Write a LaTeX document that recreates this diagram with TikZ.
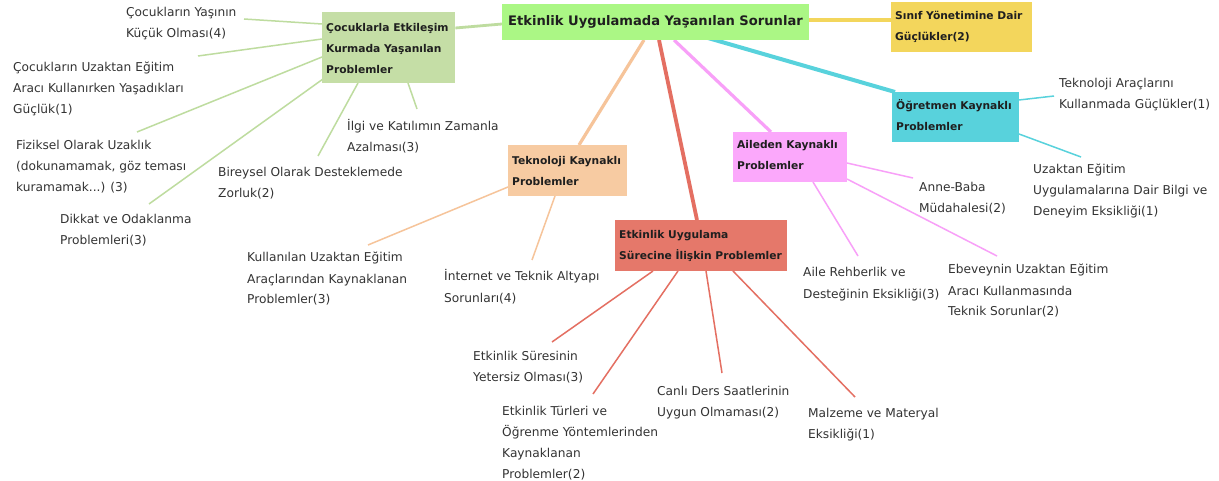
\documentclass[tikz,border=0pt]{standalone}
\usepackage{fontspec}
\setmainfont{DejaVu Sans}
\newcommand{\mlines}[1]{\begin{tabular}[t]{@{}l@{}}#1\end{tabular}}
\definecolor{rootg}{HTML}{ABF785}
\definecolor{sage}{HTML}{C5DEA6}
\definecolor{sageline}{HTML}{BEDC9F}
\definecolor{yel}{HTML}{F3D65C}
\definecolor{cyanb}{HTML}{58D2DC}
\definecolor{pinkb}{HTML}{FBA8FB}
\definecolor{pinkl}{HTML}{F8A0F8}
\definecolor{peach}{HTML}{F7CBA2}
\definecolor{peachl}{HTML}{F6C49A}
\definecolor{redb}{HTML}{E5786A}
\definecolor{redl}{HTML}{E46F62}
\pgfdeclarelayer{bg}\pgfdeclarelayer{paper}\pgfsetlayers{paper,bg,main}
\begin{document}
\begin{tikzpicture}[x=1pt,y=-1pt,
  leaf/.style={anchor=base west, inner sep=0pt, font=\fontsize{12.2}{21}\selectfont, text=black!80},
  btext/.style={anchor=base west, inner sep=0pt, font=\bfseries\fontsize{10.7}{21}\selectfont, text=black!88},
  box/.style={anchor=north west, inner sep=0pt, draw=none},
  thin/.style={line width=1.5pt},
  thick/.style={line width=3.2pt}]
\begin{pgfonlayer}{paper}
\fill[white] (0,0) rectangle (1219,481);
\end{pgfonlayer}
\useasboundingbox (0,0) rectangle (1219,481);

% boxes
\node[box, fill=rootg, minimum width=307, minimum height=36] (root) at (502,4) {};
\node[anchor=base, inner sep=0pt, font=\bfseries\fontsize{13.1}{21}\selectfont, text=black!88] (roott) at (655.5,26) {Etkinlik Uygulamada Yaşanılan Sorunlar};
\node[box, fill=sage, minimum width=133, minimum height=71] (cocuk) at (322,12) {};
\node[btext] (cocukt) at (326,32) {\mlines{Çocuklarla Etkileşim\\Kurmada Yaşanılan\\Problemler}};
\node[box, fill=yel, minimum width=141, minimum height=50] (sinif) at (891,2) {};
\node[btext] (sinift) at (895,20) {\mlines{Sınıf Yönetimine Dair\\Güçlükler(2)}};
\node[box, fill=cyanb, minimum width=127, minimum height=50] (ogret) at (892,92) {};
\node[btext] (ogrett) at (896,110) {\mlines{Öğretmen Kaynaklı\\Problemler}};
\node[box, fill=pinkb, minimum width=114, minimum height=50] (aile) at (733,132) {};
\node[btext] (ailet) at (737,149) {\mlines{Aileden Kaynaklı\\Problemler}};
\node[box, fill=peach, minimum width=119, minimum height=51] (tek) at (508,145) {};
\node[btext] (tekt) at (512,165) {\mlines{Teknoloji Kaynaklı\\Problemler}};
\node[box, fill=redb, minimum width=172, minimum height=51] (surec) at (615,220) {};
\node[btext] (surect) at (619,239) {\mlines{Etkinlik Uygulama\\Sürecine İlişkin Problemler}};

% leaves
\node[leaf] (l1) at (126,17) {\mlines{Çocukların Yaşının\\Küçük Olması(4)}};
\node[leaf] (l2) at (13,72) {\mlines{Çocukların Uzaktan Eğitim\\Aracı Kullanırken Yaşadıkları\\Güçlük(1)}};
\node[leaf] (l3) at (16,150) {\mlines{Fiziksel Olarak Uzaklık\\(dokunamamak, göz teması\\kuramamak...) (3)}};
\node[leaf] (l4) at (60,224) {\mlines{Dikkat ve Odaklanma\\Problemleri(3)}};
\node[leaf] (l5) at (218,177) {\mlines{Bireysel Olarak Desteklemede\\Zorluk(2)}};
\node[leaf] (l6) at (347,131) {\mlines{İlgi ve Katılımın Zamanla\\Azalması(3)}};
\node[leaf] (l7) at (247,262) {\mlines{Kullanılan Uzaktan Eğitim\\Araçlarından Kaynaklanan\\Problemler(3)}};
\node[leaf] (l8) at (444,281) {\mlines{İnternet ve Teknik Altyapı\\Sorunları(4)}};
\node[leaf] (l9) at (473,360) {\mlines{Etkinlik Süresinin\\Yetersiz Olması(3)}};
\node[leaf] (l10) at (502,415) {\mlines{Etkinlik Türleri ve\\Öğrenme Yöntemlerinden\\Kaynaklanan\\Problemler(2)}};
\node[leaf] (l11) at (657,395) {\mlines{Canlı Ders Saatlerinin\\Uygun Olmaması(2)}};
\node[leaf] (l12) at (808,417) {\mlines{Malzeme ve Materyal\\Eksikliği(1)}};
\node[leaf] (l13) at (919,192) {\mlines{Anne-Baba\\Müdahalesi(2)}};
\node[leaf] (l14) at (803,277) {\mlines{Aile Rehberlik ve\\Desteğinin Eksikliği(3)}};
\node[leaf] (l15) at (948,274) {\mlines{Ebeveynin Uzaktan Eğitim\\Aracı Kullanmasında\\Teknik Sorunlar(2)}};
\node[leaf] (l16) at (1059,88) {\mlines{Teknoloji Araçlarını\\Kullanmada Güçlükler(1)}};
\node[leaf] (l17) at (1033,174) {\mlines{Uzaktan Eğitim\\Uygulamalarına Dair Bilgi ve\\Deneyim Eksikliği(1)}};

% free ends of leaf connectors
\coordinate (e1) at (244,19);
\coordinate (e2) at (198,56);
\coordinate (e3) at (137,132);
\coordinate (e4) at (149,204);
\coordinate (e5) at (318,156);
\coordinate (e6) at (417,109);
\coordinate (e7) at (368,245);
\coordinate (e8) at (532,260);
\coordinate (e9) at (552,342);
\coordinate (e10) at (593,394);
\coordinate (e11) at (722,373);
\coordinate (e12) at (855,397);
\coordinate (e13) at (913,178);
\coordinate (e14) at (858,256);
\coordinate (e15) at (997,256);
\coordinate (e16) at (1054,96);
\coordinate (e17) at (1081,157);

\begin{pgfonlayer}{bg}
% main branches
\draw[thick, line width=2.8pt, sageline] ([shift={(0,20)}]root.north west) -- ([shift={(0,16)}]cocuk.north east);
\draw[thick, line width=4pt, yel] ([shift={(0,16)}]root.north east) -- ([shift={(0,18)}]sinif.north west);
\draw[thick, line width=4pt, cyanb] ([shift={(206,34)}]root.north west) -- ([shift={(3,0)}]ogret.north west);
\draw[thick, pinkl] ([shift={(172,36)}]root.north west) -- ([shift={(38,0)}]aile.north west);
\draw[thick, peachl] ([shift={(142,36)}]root.north west) -- ([shift={(71,0)}]tek.north west);
\draw[thick, line width=3.8pt, redl] ([shift={(157,36)}]root.north west) -- ([shift={(82,0)}]surec.north west);
% leaf connectors
\draw[thin, sageline] ([shift={(0,12)}]cocuk.north west) -- (e1);
\draw[thin, sageline] ([shift={(0,27)}]cocuk.north west) -- (e2);
\draw[thin, sageline] ([shift={(0,45)}]cocuk.north west) -- (e3);
\draw[thin, sageline] ([shift={(1,67)}]cocuk.north west) -- (e4);
\draw[thin, sageline] ([shift={(36,71)}]cocuk.north west) -- (e5);
\draw[thin, sageline] ([shift={(86,71)}]cocuk.north west) -- (e6);
\draw[thin, peachl] ([shift={(0,42)}]tek.north west) -- (e7);
\draw[thin, peachl] ([shift={(47,51)}]tek.north west) -- (e8);
\draw[thin, redl] ([shift={(38,51)}]surec.north west) -- (e9);
\draw[thin, redl] ([shift={(63,51)}]surec.north west) -- (e10);
\draw[thin, redl] ([shift={(91,51)}]surec.north west) -- (e11);
\draw[thin, redl] ([shift={(118,51)}]surec.north west) -- (e12);
\draw[thin, pinkl] ([shift={(114,31)}]aile.north west) -- (e13);
\draw[thin, pinkl] ([shift={(80,50)}]aile.north west) -- (e14);
\draw[thin, pinkl] ([shift={(114,47)}]aile.north west) -- (e15);
\draw[thin, cyanb] ([shift={(127,8)}]ogret.north west) -- (e16);
\draw[thin, cyanb] ([shift={(127,42)}]ogret.north west) -- (e17);
\end{pgfonlayer}
\end{tikzpicture}
\end{document}
